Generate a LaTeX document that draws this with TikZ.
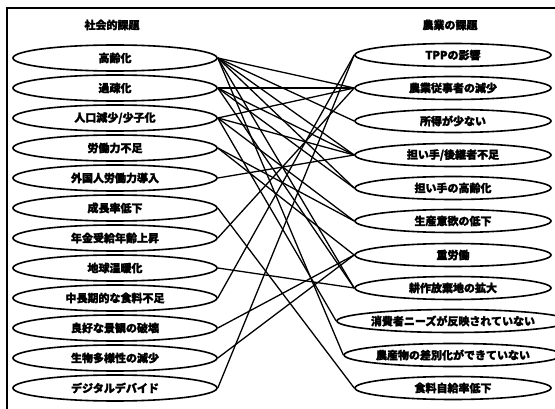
\documentclass[tikz,border=0pt]{standalone}
\usepackage{fontspec}
\newfontfamily\cjk{Noto Sans CJK JP}[BoldFeatures={FakeBold=2}]
\usetikzlibrary{shapes.geometric}
\begin{document}
\begin{tikzpicture}[x=1pt,y=-1pt,
  jp/.style={font=\cjk\bfseries\fontsize{11}{11}\selectfont},
  cause/.style={ellipse, draw, line width=1.6pt, minimum width=204pt, minimum height=26pt, inner sep=0pt, jp},
  issue/.style={cause, minimum width=196pt, minimum height=23pt},
  link/.style={line width=1.3pt},
  frameline/.style={line width=1.2pt}]
\useasboundingbox (0,0) rectangle (555,409);
% outer frame (top and left edges)
\draw[frameline] (7,409) -- (7,8) -- (555,8);

% column headings
\node[jp] (hl) at (112,25) {社会的課題};
\node[jp] (hr) at (450,25) {農業の課題};

% social issues
\node[cause] (L1)  at (115,58)  {高齢化};
\node[cause] (L2)  at (115,88)  {過疎化};
\node[cause] (L3)  at (115,118) {人口減少/少子化};
\node[cause] (L4)  at (115,148) {労働力不足};
\node[cause] (L5)  at (115,178) {外国人労働力導入};
\node[cause] (L6)  at (115,208) {成長率低下};
\node[cause] (L7)  at (115,238) {年金受給年齢上昇};
\node[cause] (L8)  at (115,268) {地球温暖化};
\node[cause] (L9)  at (115,298) {中長期的な食料不足};
\node[cause] (L10) at (115,328) {良好な景観の破壊};
\node[cause] (L11) at (115,358) {生物多様性の減少};
\node[cause] (L12) at (115,388) {デジタルデバイド};

% agricultural issues
\node[issue] (R1)  at (453,55)  {TPPの影響};
\node[issue] (R2)  at (453,88)  {農業従事者の減少};
\node[issue] (R3)  at (453,121) {所得が少ない};
\node[issue] (R4)  at (453,155) {担い手/後継者不足};
\node[issue] (R5)  at (453,188) {担い手の高齢化};
\node[issue] (R6)  at (453,221) {生産意欲の低下};
\node[issue] (R7)  at (453,255) {重労働};
\node[issue] (R8)  at (453,288) {耕作放棄地の拡大};
\node[issue] (R9)  at (453,321) {消費者ニーズが反映されていない};
\node[issue] (R10) at (453,355) {農産物の差別化ができていない};
\node[issue] (R11) at (453,388) {食料自給率低下};

% relations between the two columns
\foreach \a/\b in {1/2,1/3,1/4,1/5,1/8,1/10,
                   2/2,2/4,2/5,2/8,
                   3/2,3/4,3/6,3/9,
                   4/6,4/7,
                   5/4,
                   6/11,
                   7/2,
                   8/8,
                   9/1,
                   10/7,
                   11/7,
                   12/1}
  \draw[link] (L\a.east) -- (R\b.west);
\end{tikzpicture}
\end{document}
